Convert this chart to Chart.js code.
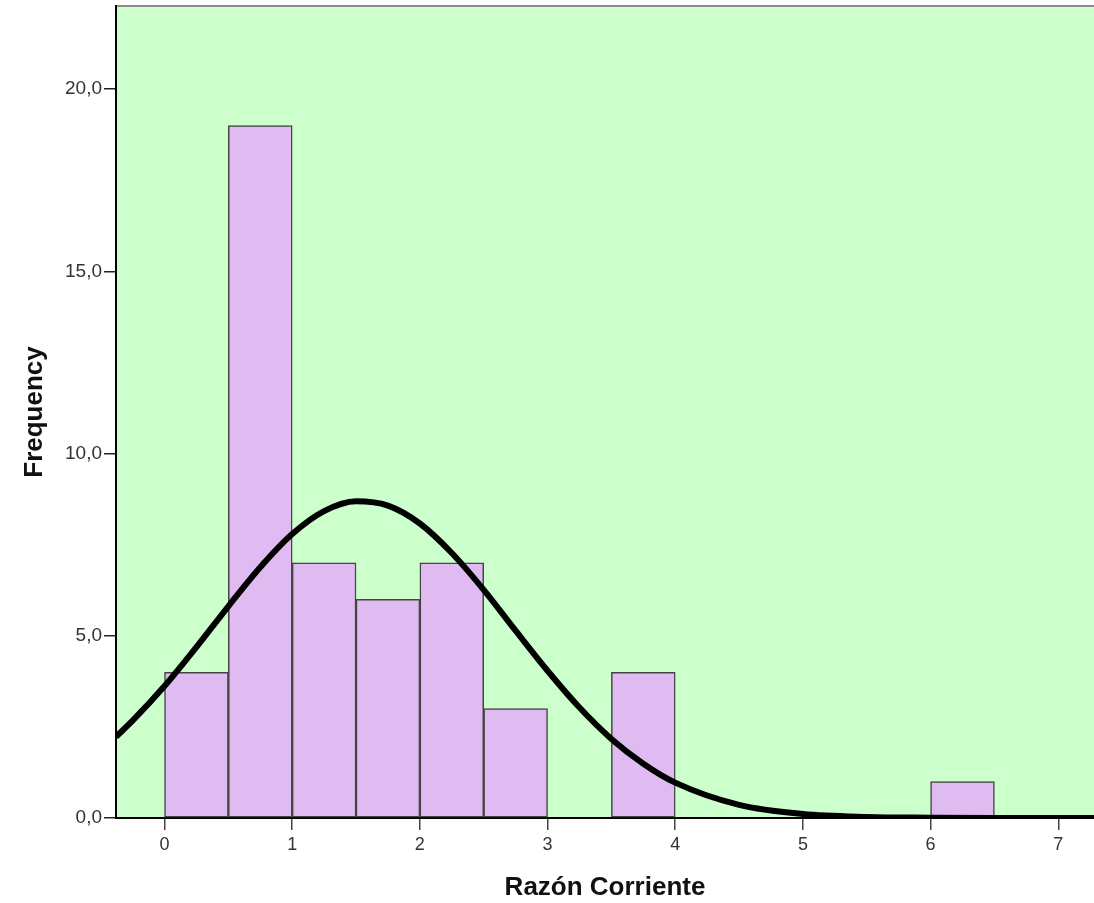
<!DOCTYPE html>
<html>
<head>
<meta charset="utf-8">
<title>Razón Corriente</title>
<script src="https://cdn.jsdelivr.net/npm/chart.js@4/dist/chart.umd.min.js"></script>
<style>
  html, body { margin: 0; padding: 0; background: #ffffff; }
  canvas { display: block; }
</style>
</head>
<body>
<canvas id="grafico" width="1094" height="903"></canvas>
<script>
// centros de los intervalos (ancho 0.5) y frecuencias
const centrosBins = [0.25, 0.75, 1.25, 1.75, 2.25, 2.75, 3.25, 3.75, 4.25, 4.75, 5.25, 5.75, 6.25];
const frecuencias = [4, 19, 7, 6, 7, 3, 0, 4, 0, 0, 0, 0, 1];

// curva normal
const curvaX = [-0.38, -0.25, 0, 0.25, 0.5, 0.75, 1, 1.25, 1.5, 1.75, 2, 2.25, 2.5, 2.75, 3, 3.25, 3.5, 3.75, 4, 4.5, 5, 5.5, 6, 6.5, 7.28];
const curvaY = [2.23, 2.67, 3.62, 4.69, 5.81, 6.88, 7.79, 8.42, 8.69, 8.57, 8.08, 7.27, 6.26, 5.14, 4.04, 3.03, 2.17, 1.49, 0.97, 0.36, 0.11, 0.03, 0.01, 0, 0];

const ticksX = [0, 1, 2, 3, 4, 5, 6, 7];
const ticksY = [0, 5, 10, 15, 20];

const fuente = 'Liberation Sans, Arial, sans-serif';

// fondo verde del área de trazado + borde superior
const fondoArea = {
  id: 'fondoArea',
  beforeDraw(chart) {
    const { ctx, chartArea: a } = chart;
    ctx.save();
    ctx.fillStyle = '#ccffcc';
    ctx.fillRect(a.left, a.top, a.right - a.left, a.bottom - a.top);
    ctx.strokeStyle = '#8a8a8a';
    ctx.lineWidth = 2;
    ctx.beginPath();
    ctx.moveTo(a.left, a.top);
    ctx.lineTo(a.right, a.top);
    ctx.stroke();
    ctx.restore();
  }
};

const ctx = document.getElementById('grafico').getContext('2d');

new Chart(ctx, {
  data: {
    datasets: [
      {
        type: 'line',
        data: curvaX.map((x, i) => ({ x, y: curvaY[i] })),
        borderColor: '#000000',
        borderWidth: 6,
        pointRadius: 0,
        cubicInterpolationMode: 'monotone',
        fill: false,
        order: 0
      },
      {
        type: 'bar',
        data: centrosBins.map((x, i) => ({ x, y: frecuencias[i] })),
        backgroundColor: '#dfbbf1',
        borderColor: '#444444',
        borderWidth: 1.5,
        borderSkipped: false,
        barPercentage: 1,
        categoryPercentage: 1,
        order: 1
      }
    ]
  },
  plugins: [fondoArea],
  options: {
    responsive: false,
    animation: false,
    devicePixelRatio: 1,
    layout: { padding: { top: 6, right: 0, left: 0, bottom: 0 } },
    plugins: {
      legend: { display: false },
      tooltip: { enabled: false }
    },
    scales: {
      x: {
        type: 'linear',
        min: -0.38,
        max: 7.28,
        offset: false,
        afterFit: s => { s.height = 85; s.paddingLeft = 0; s.paddingRight = 0; },
        afterBuildTicks: s => { s.ticks = ticksX.map(v => ({ value: v })); },
        grid: { offset: false, drawOnChartArea: false, drawTicks: true, tickLength: 12, color: '#444444', lineWidth: 1.5 },
        border: { display: true, color: '#000000', width: 2 },
        ticks: {
          color: '#333333',
          padding: 4,
          maxRotation: 0,
          font: { family: fuente, size: 18 },
          callback: v => String(v)
        },
        title: {
          display: true,
          text: 'Razón Corriente',
          color: '#111111',
          font: { family: fuente, size: 26, weight: 'bold' },
          padding: { top: 0, bottom: 0 }
        }
      },
      y: {
        type: 'linear',
        min: 0,
        max: 22.28,
        afterFit: s => { s.width = 116; s.paddingTop = 0; s.paddingBottom = 0; },
        afterBuildTicks: s => { s.ticks = ticksY.map(v => ({ value: v })); },
        grid: { drawOnChartArea: false, drawTicks: true, tickLength: 12, color: '#222222', lineWidth: 1.5 },
        border: { display: true, color: '#000000', width: 2 },
        ticks: {
          color: '#333333',
          padding: 2,
          font: { family: fuente, size: 19 },
          callback: v => v.toFixed(1).replace('.', ',')
        },
        title: {
          display: true,
          text: 'Frequency',
          color: '#111111',
          font: { family: fuente, size: 26, weight: 'bold' },
          padding: { top: 19, bottom: 0 }
        }
      }
    }
  }
});
</script>
</body>
</html>
